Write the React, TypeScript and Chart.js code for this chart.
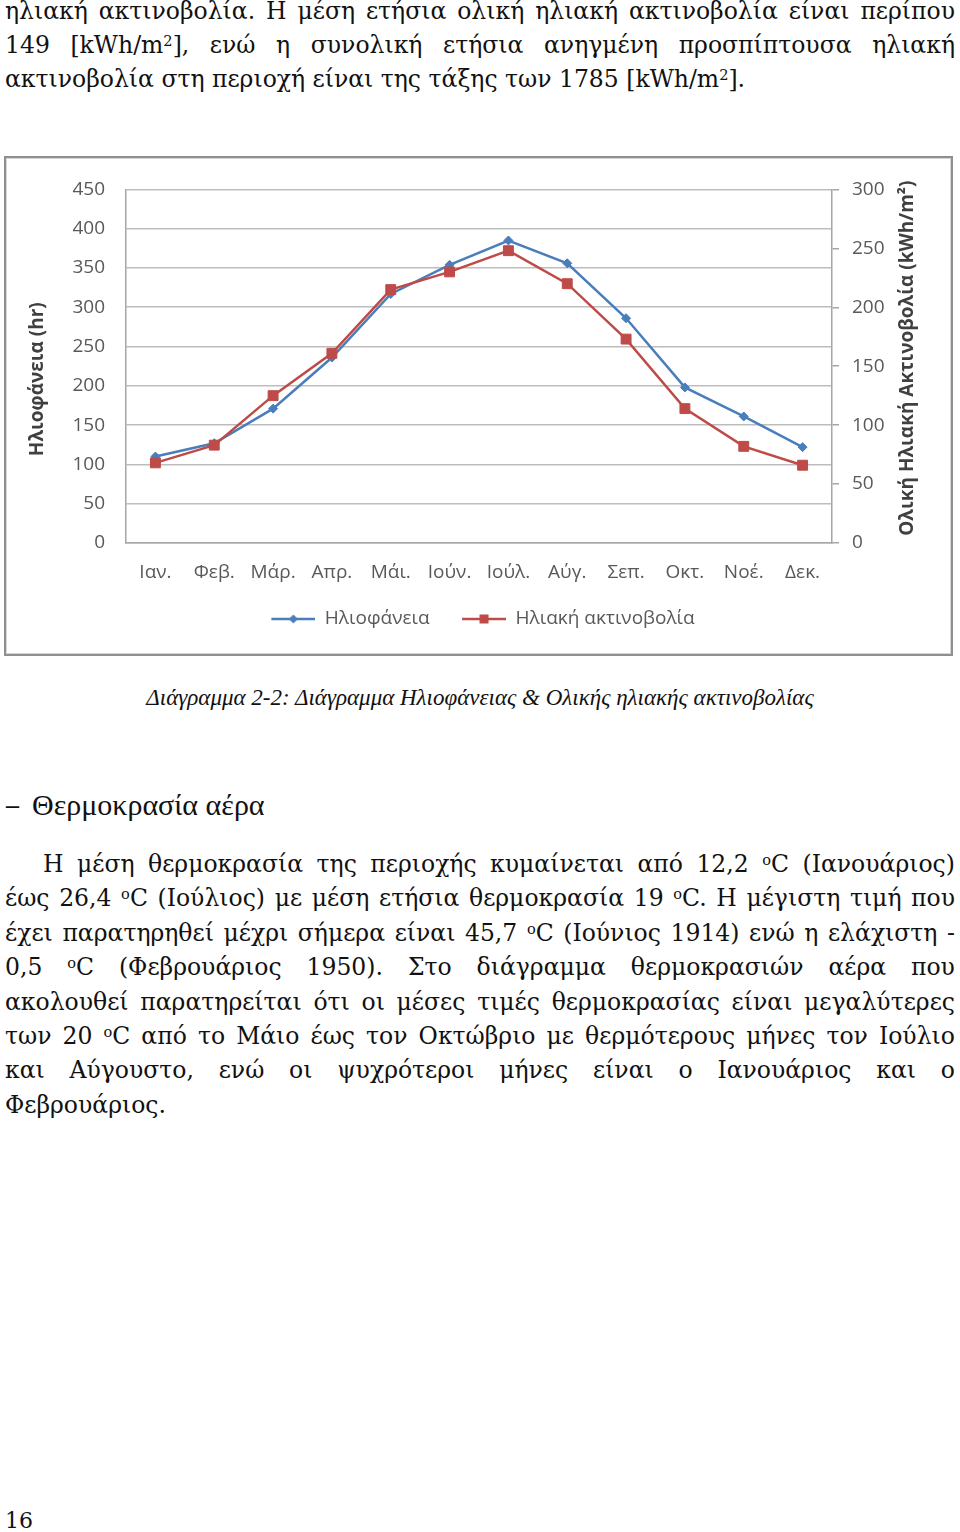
import React, { useEffect, useRef } from 'react';
import { Chart, registerables } from 'chart.js';

Chart.register(...registerables);

// ---------- data ----------
const months = ['Ιαν.', 'Φεβ.', 'Μάρ.', 'Απρ.', 'Μάι.', 'Ιούν.', 'Ιούλ.', 'Αύγ.', 'Σεπ.', 'Οκτ.', 'Νοέ.', 'Δεκ.'];
const sunshineHours = [110, 127, 171, 236, 317, 354, 385, 356, 286, 198, 161, 122];
const solarRadiation = [68, 83, 125, 161, 215, 230, 248, 220, 173, 114, 82, 66];
const seriesLabels = ['Ηλιοφάνεια', 'Ηλιακή ακτινοβολία'];
const leftAxisMax = 450;
const rightAxisMax = 300;
const tickStep = 50;
const leftAxisTitle = 'Ηλιοφάνεια (hr)';
const rightAxisTitle = 'Ολική Ηλιακή Ακτινοβολία (kWh/m²)';

const topLines = [
  'ηλιακή ακτινοβολία. Η μέση ετήσια ολική ηλιακή ακτινοβολία είναι περίπου',
  '149 [kWh/m{2}], ενώ η συνολική ετήσια ανηγμένη  προσπίπτουσα ηλιακή',
  'ακτινοβολία στη περιοχή είναι της τάξης των 1785 [kWh/m{2}].',
];
const caption = 'Διάγραμμα 2-2: Διάγραμμα Ηλιοφάνειας & Ολικής ηλιακής ακτινοβολίας';
const heading = 'Θερμοκρασία αέρα';
const paraLines = [
  'Η μέση θερμοκρασία της περιοχής κυμαίνεται από 12,2 {o}C (Ιανουάριος)',
  'έως 26,4 {o}C (Ιούλιος) με μέση ετήσια θερμοκρασία 19 {o}C. Η μέγιστη τιμή που',
  'έχει παρατηρηθεί μέχρι σήμερα είναι 45,7 {o}C (Ιούνιος 1914) ενώ η ελάχιστη -',
  '0,5 {o}C (Φεβρουάριος 1950). Στο διάγραμμα θερμοκρασιών αέρα που',
  'ακολουθεί παρατηρείται ότι οι μέσες τιμές θερμοκρασίας είναι μεγαλύτερες',
  'των 20 {o}C από το Μάιο έως τον Οκτώβριο με θερμότερους μήνες τον Ιούλιο',
  'και Αύγουστο, ενώ οι ψυχρότεροι μήνες είναι ο Ιανουάριος και ο',
  'Φεβρουάριος.',
];
const pageNumber = '16';

// ---------- styles ----------
const BLUE = '#4a7ebb';
const RED = '#be4b48';
const CHART_FONT = '"Open Sans", "Noto Sans", "DejaVu Sans", sans-serif';
const BODY_FONT = '"DejaVu Serif", serif';
const BODY_SIZE = 23.5;

function Rich({ text }: { text: string }) {
  const parts = text.split(/(\{[^}]*\})/);
  return (
    <>
      {parts.map((p, i) =>
        p.startsWith('{') ? (
          <sup key={i} style={{ fontSize: '0.62em', verticalAlign: '0.5em', lineHeight: 0 }}>
            {p.slice(1, -1)}
          </sup>
        ) : (
          <React.Fragment key={i}>{p}</React.Fragment>
        )
      )}
    </>
  );
}

function Line({ text, top, left, right, justify }: { text: string; top: number; left: number; right: number; justify: boolean }) {
  const base: React.CSSProperties = {
    position: 'absolute',
    top,
    left,
    height: 34,
    lineHeight: '34px',
    fontSize: BODY_SIZE,
    fontFamily: BODY_FONT,
    whiteSpace: 'nowrap',
    color: '#111',
  };
  if (!justify) {
    return (
      <div style={base}>
        <Rich text={text} />
      </div>
    );
  }
  const words = text.split(/ +/);
  return (
    <div style={{ ...base, width: right - left, display: 'flex', justifyContent: 'space-between' }}>
      {words.map((w, i) => (
        <span key={i}>
          <Rich text={w} />
        </span>
      ))}
    </div>
  );
}

// legend symbol: line with marker; a blank margin on the left widens the gap between items
function legendSymbol(color: string, kind: 'diamond' | 'square') {
  const c = document.createElement('canvas');
  c.width = 52;
  c.height = 14;
  const ctx = c.getContext('2d')!;
  const x0 = 8;
  ctx.strokeStyle = color;
  ctx.lineWidth = 2.5;
  ctx.beginPath();
  ctx.moveTo(x0, 7);
  ctx.lineTo(x0 + 44, 7);
  ctx.stroke();
  ctx.fillStyle = color;
  const cx = x0 + 22;
  if (kind === 'diamond') {
    ctx.beginPath();
    ctx.moveTo(cx, 2.5);
    ctx.lineTo(cx + 4.5, 7);
    ctx.lineTo(cx, 11.5);
    ctx.lineTo(cx - 4.5, 7);
    ctx.closePath();
    ctx.fill();
  } else {
    ctx.fillRect(cx - 4.5, 2.5, 9, 9);
  }
  return c;
}

const axisTitlesPlugin = {
  id: 'axisTitles',
  afterDraw(chart: any) {
    const { ctx, chartArea } = chart;
    const midY = (chartArea.top + chartArea.bottom) / 2;
    ctx.save();
    ctx.font = `bold 19px ${CHART_FONT}`;
    ctx.fillStyle = '#404040';
    ctx.textAlign = 'center';
    ctx.textBaseline = 'middle';
    const yl = chart.scales.y;
    ctx.translate(yl.left + 33, midY + 13);
    ctx.rotate(-Math.PI / 2);
    ctx.fillText(leftAxisTitle, 0, 0);
    ctx.restore();
    ctx.save();
    ctx.font = `bold 19px ${CHART_FONT}`;
    ctx.fillStyle = '#404040';
    ctx.textAlign = 'center';
    ctx.textBaseline = 'middle';
    const yr = chart.scales.y1;
    ctx.translate(yr.right - 45, midY - 8);
    ctx.rotate(-Math.PI / 2);
    ctx.fillText(rightAxisTitle, 0, 0);
    ctx.restore();
  },
};

function SolarChart() {
  const ref = useRef<HTMLCanvasElement | null>(null);
  useEffect(() => {
    if (!ref.current) return;
    const symbols = [legendSymbol(BLUE, 'diamond'), legendSymbol(RED, 'square')];
    const colors = [BLUE, RED];
    const chart = new Chart(ref.current, {
      type: 'line',
      data: {
        labels: months,
        datasets: [
          {
            label: seriesLabels[0],
            data: sunshineHours,
            yAxisID: 'y',
            borderColor: BLUE,
            backgroundColor: BLUE,
            borderWidth: 2.5,
            pointStyle: 'rectRot',
            pointRadius: 4.5,
            pointBorderWidth: 1,
            order: 2,
          },
          {
            label: seriesLabels[1],
            data: solarRadiation,
            yAxisID: 'y1',
            borderColor: RED,
            backgroundColor: RED,
            borderWidth: 2.5,
            pointStyle: 'rect',
            pointRadius: 7,
            pointBorderWidth: 1,
            order: 1,
          },
        ],
      },
      options: {
        responsive: false,
        animation: false,
        devicePixelRatio: 1,
        layout: { padding: { top: 27, left: 0, right: 0, bottom: 17.5 } },
        plugins: {
          tooltip: { enabled: false },
          legend: {
            position: 'bottom',
            labels: {
              usePointStyle: true,
              pointStyleWidth: 52,
              padding: 24.5,
              color: '#595959',
              font: { family: CHART_FONT, size: 19 },
              generateLabels: (ch: any) =>
                ch.data.datasets.map((ds: any, i: number) => ({
                  text: ds.label,
                  pointStyle: symbols[i],
                  fillStyle: colors[i],
                  strokeStyle: colors[i],
                  lineWidth: 0,
                  hidden: false,
                  datasetIndex: i,
                  fontColor: '#595959',
                })),
            },
          },
        },
        scales: {
          x: {
            offset: true,
            grid: { display: false },
            border: { display: true, color: '#a6a6a6', width: 1.5 },
            ticks: { color: '#595959', padding: 10, font: { family: CHART_FONT, size: 19 }, maxRotation: 0, autoSkip: false },
            afterFit: (s: any) => {
              s.height = 42;
            },
          },
          y: {
            position: 'left',
            min: 0,
            max: leftAxisMax,
            grid: { color: '#bdbdbd', lineWidth: 1.6, drawTicks: false },
            border: { display: true, color: '#a6a6a6', width: 1.5 },
            ticks: { stepSize: tickStep, color: '#595959', padding: 21, font: { family: CHART_FONT, size: 19 } },
            afterFit: (s: any) => {
              s.width = 121;
            },
          },
          y1: {
            position: 'right',
            min: 0,
            max: rightAxisMax,
            grid: { drawOnChartArea: false, drawTicks: true, tickLength: 7, color: '#a6a6a6', lineWidth: 1.5 },
            border: { display: true, color: '#a6a6a6', width: 1.5 },
            ticks: { stepSize: tickStep, color: '#595959', padding: 13, font: { family: CHART_FONT, size: 19 } },
            afterFit: (s: any) => {
              s.width = 121;
            },
          },
        },
      },
      plugins: [axisTitlesPlugin],
    } as any);
    return () => chart.destroy();
  }, []);
  return (
    <>
      <canvas ref={ref} width={948} height={499} style={{ position: 'absolute', left: 5, top: 157, width: 948, height: 499 }} />
      <div
        style={{
          position: 'absolute',
          left: 4,
          top: 156,
          width: 949,
          height: 500,
          boxSizing: 'border-box',
          border: '2px solid #8f8f8f',
          boxShadow: 'inset 0 0 0 1px #d6d6d6',
          pointerEvents: 'none',
        }}
      />
    </>
  );
}

export default function App() {
  return (
    <div
      style={{
        position: 'absolute',
        left: 0,
        top: 0,
        width: 960,
        height: 1532,
        background: '#fff',
        overflow: 'hidden',
        fontFamily: BODY_FONT,
        color: '#111',
      }}
    >
      {topLines.map((t, i) => (
        <Line key={'t' + i} text={t} top={-6 + 34 * i} left={5} right={955} justify={i < topLines.length - 1} />
      ))}

      <SolarChart />

      <div
        style={{
          position: 'absolute',
          top: 686,
          left: 0,
          width: 960,
          textAlign: 'center',
          fontFamily: '"Liberation Serif", serif',
          fontStyle: 'italic',
          fontSize: 23,
          lineHeight: '23px',
          whiteSpace: 'nowrap',
          color: '#111',
        }}
      >
        {caption}
      </div>

      <div style={{ position: 'absolute', top: 790, left: 6, fontFamily: '"Liberation Serif", serif', fontWeight: 'bold', fontSize: 26, lineHeight: '30px', color: '#111' }}>
        –
      </div>
      <div style={{ position: 'absolute', top: 790, left: 32, fontFamily: '"Liberation Serif", serif', fontSize: 30, lineHeight: '30px', whiteSpace: 'nowrap', color: '#111' }}>
        {heading}
      </div>

      {paraLines.map((t, i) => (
        <Line
          key={'p' + i}
          text={t}
          top={847 + 34.4 * i}
          left={i === 0 ? 43 : 5}
          right={955}
          justify={i < paraLines.length - 1}
        />
      ))}

      <div style={{ position: 'absolute', top: 1510, left: 5, fontFamily: BODY_FONT, fontSize: 22, lineHeight: '22px', color: '#111' }}>
        {pageNumber}
      </div>
    </div>
  );
}
